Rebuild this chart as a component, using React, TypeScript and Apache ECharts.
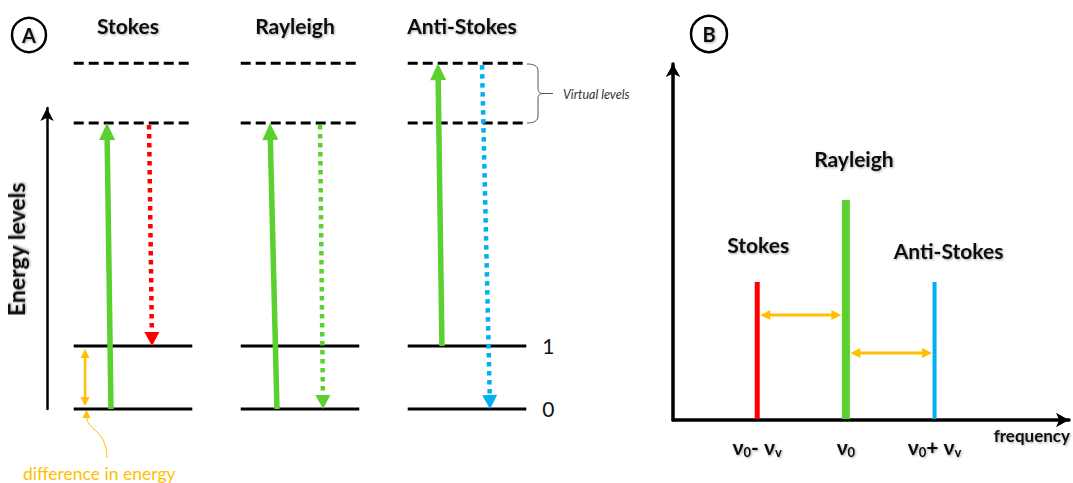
import React, { useEffect, useRef } from "react";
import * as echarts from "echarts";

// ---- Panel A: energy-level diagram ----
const processes = ["Stokes", "Rayleigh", "Anti-Stokes"];
// ground state, first vibrational state, two virtual levels
const levelEnergy = [0, 1, 4.54, 5.49];
const levelVirtual = [false, false, true, true];
const levelLabel = ["0", "1", "", ""];

// transitions: column, start level, end level, horizontal offset (column units) at start / end
const transColumn = [0, 0, 1, 1, 2, 2];
const transFrom = [0, 2, 0, 2, 1, 3];
const transTo = [2, 1, 2, 0, 3, 0];
const transOffsetFrom = [-0.132, 0.096, -0.138, 0.12, -0.15, 0.09];
const transOffsetTo = [-0.156, 0.114, -0.18, 0.138, -0.174, 0.138];

// energy gap marker between level 0 and level 1 (Stokes column)
const gapColumn = 0;
const gapOffset = -0.287;
const gapLevels = [0, 1];

// ---- Panel B: spectrum ----
const lineNames = ["Stokes", "Rayleigh", "Anti-Stokes"];
const lineShift = [-1, 0, 1]; // in units of the vibrational frequency from ν0
const lineIntensity = [0.627, 1, 0.627];
const shiftArrowFrom = [-1, 0];
const shiftArrowTo = [0, 1];
const shiftArrowHeight = [0.477, 0.305];
const freqTicks = [-1, 0, 1];

// ---- styles ----
const GREEN = "#5ad12e";
const ORANGE = "#ffc000";
const processColor = ["#ff0000", GREEN, "#00b0f0"];
const lineWidths = [5, 8, 4];
const lineLabelShift = [[1, -38], [8, -41], [14, -32]];
const FONT = "Lato, 'Open Sans', sans-serif";
const HALF_LEVEL = 0.355;
const shadow = {
  textShadowColor: "rgba(0,0,0,0.35)",
  textShadowBlur: 2,
  textShadowOffsetX: 1,
  textShadowOffsetY: 1,
};

type Opts = {
  color: string;
  width: number;
  headW: number;
  headL: number;
  dash?: number[];
  both?: boolean;
};

function arrow(x1: number, y1: number, x2: number, y2: number, o: Opts) {
  const dx = x2 - x1;
  const dy = y2 - y1;
  const len = Math.hypot(dx, dy) || 1;
  const ux = dx / len;
  const uy = dy / len;
  const px = -uy;
  const py = ux;
  const head = (tx: number, ty: number, dx0: number, dy0: number) => ({
    type: "polygon",
    shape: {
      points: [
        [tx, ty],
        [tx - dx0 * o.headL + (px * o.headW) / 2, ty - dy0 * o.headL + (py * o.headW) / 2],
        [tx - dx0 * o.headL - (px * o.headW) / 2, ty - dy0 * o.headL - (py * o.headW) / 2],
      ],
    },
    style: { fill: o.color },
  });
  let sx = x1;
  let sy = y1;
  const ex = x2 - ux * (o.headL - 1);
  const ey = y2 - uy * (o.headL - 1);
  const children: any[] = [];
  if (o.both) {
    sx = x1 + ux * (o.headL - 1);
    sy = y1 + uy * (o.headL - 1);
    children.push(head(x1, y1, -ux, -uy));
  }
  children.push({
    type: "line",
    shape: { x1: sx, y1: sy, x2: ex, y2: ey },
    style: { stroke: o.color, lineWidth: o.width, lineDash: o.dash || null, lineCap: "butt" },
  });
  children.push(head(x2, y2, ux, uy));
  return children;
}

function sub(main: string, s: string) {
  return `{b|${main}}{s|${s}}`;
}

export default function App() {
  const ref = useRef<HTMLDivElement>(null);

  useEffect(() => {
    if (!ref.current) return;
    echarts.graphic.registerShape(
      "brace",
      echarts.graphic.extendPath(
        "M0,0 C7,0 11,2 11,7 L11,24 C11,28 13,29.5 16,29.5 L26,29.5 M16,29.5 C13,29.5 11,31 11,35 L11,52 C11,57 7,59 0,59",
        {}
      )
    );
    const chart = echarts.init(ref.current, null, { renderer: "svg" });

    const levelData: number[][] = [];
    processes.forEach((_, c) => {
      levelEnergy.forEach((e, li) => levelData.push([c, e, li]));
    });

    const transData = transColumn.map((c, i) => [
      c,
      levelEnergy[transFrom[i]],
      levelEnergy[transTo[i]],
      transOffsetFrom[i],
      transOffsetTo[i],
      i,
    ]);

    const spectrumData = lineShift.map((x, i) => [x, lineIntensity[i], i]);
    const shiftData = shiftArrowFrom.map((f, i) => [f, shiftArrowTo[i], shiftArrowHeight[i]]);

    const option: any = {
      animation: false,
      textStyle: { fontFamily: FONT },
      grid: [
        { left: 49.5, top: 108, width: 501, height: 301 },
        { left: 673, top: 64, width: 396, height: 356 },
      ],
      xAxis: [
        {
          gridIndex: 0,
          type: "value",
          position: "top",
          min: -0.5,
          max: 2.5,
          axisLine: { show: false, onZero: false },
          axisTick: { show: false },
          splitLine: { show: false },
          axisLabel: {
            customValues: [0, 1, 2],
            formatter: (v: number) => processes[Math.round(v)],
            margin: 72,
            fontSize: 21,
            fontWeight: "bold",
            color: "#111",
            fontFamily: FONT,
            padding: [0, 10, 0, 0],
            ...shadow,
          },
        },
        {
          gridIndex: 1,
          type: "value",
          min: -1.95,
          max: 2.516,
          axisLine: {
            show: true,
            onZero: false,
            symbol: ["none", "arrow"],
            symbolSize: [11, 13],
            lineStyle: { color: "#000", width: 3.5 },
          },
          axisTick: { show: false },
          splitLine: { show: false },
          axisLabel: {
            customValues: freqTicks,
            margin: 15,
            formatter: (v: number) =>
              v < 0 ? sub("ν", "0") + "{b|- ν}{s|v}" : v > 0 ? sub("ν", "0") + "{b|+ ν}{s|v}" : sub("ν", "0"),
            rich: {
              b: { fontSize: 21, fontWeight: "bold", color: "#111", fontFamily: FONT, ...shadow },
              s: {
                fontSize: 13,
                fontWeight: "bold",
                color: "#111",
                fontFamily: FONT,
                padding: [10, 0, 0, 0],
                ...shadow,
              },
            },
          },
          name: "frequency",
          nameLocation: "end",
          nameGap: 1,
          nameTextStyle: {
            fontSize: 17,
            fontWeight: "bold",
            color: "#111",
            fontFamily: FONT,
            align: "right",
            verticalAlign: "top",
            padding: [7, 0, 0, 0],
            ...shadow,
          },
        },
      ],
      yAxis: [
        {
          gridIndex: 0,
          type: "value",
          min: 0,
          max: 4.778,
          offset: 2.5,
          axisLine: {
            show: true,
            onZero: false,
            symbol: ["none", "arrow"],
            symbolSize: [10, 13],
            lineStyle: { color: "#000", width: 2.5 },
          },
          axisTick: { show: false },
          axisLabel: { show: false },
          splitLine: { show: false },
          name: "Energy levels",
          nameLocation: "middle",
          nameRotate: 90,
          nameGap: 20,
          nameTextStyle: {
            fontSize: 23,
            fontWeight: "bold",
            color: "#111",
            fontFamily: FONT,
            padding: [0, 0, 0, 18],
            ...shadow,
          },
        },
        {
          gridIndex: 1,
          type: "value",
          min: 0,
          max: 1.618,
          axisLine: {
            show: true,
            onZero: false,
            symbol: ["none", "arrow"],
            symbolSize: [11, 13],
            lineStyle: { color: "#000", width: 3.5 },
          },
          axisTick: { show: false },
          axisLabel: { show: false },
          splitLine: { show: false },
        },
      ],
      series: [
        {
          name: "levels",
          type: "custom",
          xAxisIndex: 0,
          yAxisIndex: 0,
          clip: false,
          data: levelData,
          renderItem: (_p: any, api: any) => {
            const c = api.value(0);
            const e = api.value(1);
            const li = api.value(2);
            const a = api.coord([c - HALF_LEVEL, e]);
            const b = api.coord([c + HALF_LEVEL, e]);
            const children: any[] = [
              {
                type: "line",
                shape: { x1: a[0], y1: a[1], x2: b[0], y2: b[1] },
                style: {
                  stroke: "#000",
                  lineWidth: 3,
                  lineDash: levelVirtual[li] ? [10, 5] : null,
                },
              },
            ];
            if (c === processes.length - 1 && levelLabel[li]) {
              children.push({
                type: "text",
                x: b[0] + 16,
                y: b[1] - 1,
                style: {
                  text: levelLabel[li],
                  fontSize: 21,
                  fontFamily: FONT,
                  fill: "#111",
                  align: "left",
                  verticalAlign: "middle",
                },
              });
            }
            return { type: "group", children };
          },
        },
        {
          name: "transitions",
          type: "custom",
          xAxisIndex: 0,
          yAxisIndex: 0,
          clip: false,
          data: transData,
          renderItem: (_p: any, api: any) => {
            const c = api.value(0);
            const e1 = api.value(1);
            const e2 = api.value(2);
            const o1 = api.value(3);
            const o2 = api.value(4);
            const p1 = api.coord([c + o1, e1]);
            const p2 = api.coord([c + o2, e2]);
            const up = e2 > e1;
            const children = up
              ? arrow(p1[0], p1[1], p2[0], p2[1], { color: GREEN, width: 5.5, headW: 16, headL: 17 })
              : arrow(p1[0], p1[1] + 2, p2[0], p2[1], {
                  color: processColor[c],
                  width: 4.5,
                  headW: 15,
                  headL: 14,
                  dash: [4.5, 4.5],
                });
            return { type: "group", children };
          },
        },
        {
          name: "energy gap",
          type: "custom",
          xAxisIndex: 0,
          yAxisIndex: 0,
          clip: false,
          data: [[gapColumn + gapOffset, levelEnergy[gapLevels[0]], levelEnergy[gapLevels[1]]]],
          renderItem: (_p: any, api: any) => {
            const x = api.value(0);
            const p1 = api.coord([x, api.value(1)]);
            const p2 = api.coord([x, api.value(2)]);
            return {
              type: "group",
              children: arrow(p1[0], p1[1] - 3, p2[0], p2[1] + 3, {
                color: ORANGE,
                width: 2.5,
                headW: 9,
                headL: 9,
                both: true,
              }),
            };
          },
        },
        {
          name: "spectrum",
          type: "custom",
          xAxisIndex: 1,
          yAxisIndex: 1,
          clip: false,
          data: spectrumData,
          renderItem: (_p: any, api: any) => {
            const x = api.value(0);
            const h = api.value(1);
            const i = api.value(2);
            const b = api.coord([x, 0]);
            const t = api.coord([x, h]);
            return {
              type: "group",
              children: [
                {
                  type: "line",
                  shape: { x1: b[0], y1: b[1] - 1, x2: t[0], y2: t[1] },
                  style: { stroke: processColor[i], lineWidth: lineWidths[i] },
                },
                {
                  type: "text",
                  x: t[0] + lineLabelShift[i][0],
                  y: t[1] + lineLabelShift[i][1],
                  style: {
                    text: lineNames[i],
                    fontSize: 21,
                    fontWeight: "bold",
                    fontFamily: FONT,
                    fill: "#111",
                    align: "center",
                    verticalAlign: "middle",
                    ...shadow,
                  },
                },
              ],
            };
          },
        },
        {
          name: "frequency shift",
          type: "custom",
          xAxisIndex: 1,
          yAxisIndex: 1,
          clip: false,
          data: shiftData,
          renderItem: (_p: any, api: any) => {
            const f = api.value(0);
            const t = api.value(1);
            const h = api.value(2);
            const p1 = api.coord([f, h]);
            const p2 = api.coord([t, h]);
            const w1 = lineWidths[lineShift.indexOf(f)] / 2;
            const w2 = lineWidths[lineShift.indexOf(t)] / 2;
            return {
              type: "group",
              children: arrow(p1[0] + w1 + 0.5, p1[1], p2[0] - w2 - 0.5, p2[1], {
                color: ORANGE,
                width: 3,
                headW: 10,
                headL: 10,
                both: true,
              }),
            };
          },
        },
      ],
      graphic: [
        // panel tags
        {
          type: "group",
          children: [
            { type: "circle", shape: { cx: 29, cy: 35, r: 17 }, style: { fill: "none", stroke: "#000", lineWidth: 2.5 } },
            {
              type: "text",
              x: 29,
              y: 35,
              style: { text: "A", fontSize: 20, fontWeight: "bold", fontFamily: FONT, fill: "#111", align: "center", verticalAlign: "middle", ...shadow },
            },
            { type: "circle", shape: { cx: 709, cy: 34, r: 18 }, style: { fill: "none", stroke: "#000", lineWidth: 2.5 } },
            {
              type: "text",
              x: 709,
              y: 34,
              style: { text: "B", fontSize: 20, fontWeight: "bold", fontFamily: FONT, fill: "#111", align: "center", verticalAlign: "middle", ...shadow },
            },
          ],
        },
        // virtual levels brace
        {
          type: "brace",
          x: 527,
          y: 64,
          style: { fill: "none", stroke: "#555", lineWidth: 1 },
        },
        {
          type: "text",
          x: 563,
          y: 94,
          style: { text: "Virtual levels", fontSize: 12.5, fontStyle: "italic", fontFamily: FONT, fill: "#333", align: "left", verticalAlign: "middle" },
        },
        // energy difference note
        {
          type: "bezierCurve",
          shape: { x1: 86.5, y1: 417, cpx1: 88, cpy1: 432, cpx2: 106, cpy2: 428, x2: 107, y2: 458 },
          style: { fill: "none", stroke: ORANGE, lineWidth: 1 },
        },
        {
          type: "polygon",
          shape: { points: [[86.5, 410], [82.5, 418], [90.5, 418]] },
          style: { fill: ORANGE },
        },
        {
          type: "text",
          x: 23,
          y: 473,
          style: { text: "difference in energy", fontSize: 17.5, fontFamily: FONT, fill: ORANGE, align: "left", verticalAlign: "middle" },
        },
      ],
    };

    chart.setOption(option);
    return () => chart.dispose();
  }, []);

  return (
    <div
      ref={ref}
      style={{ position: "fixed", left: 0, top: 0, width: 1073, height: 483, background: "#fff" }}
    />
  );
}
